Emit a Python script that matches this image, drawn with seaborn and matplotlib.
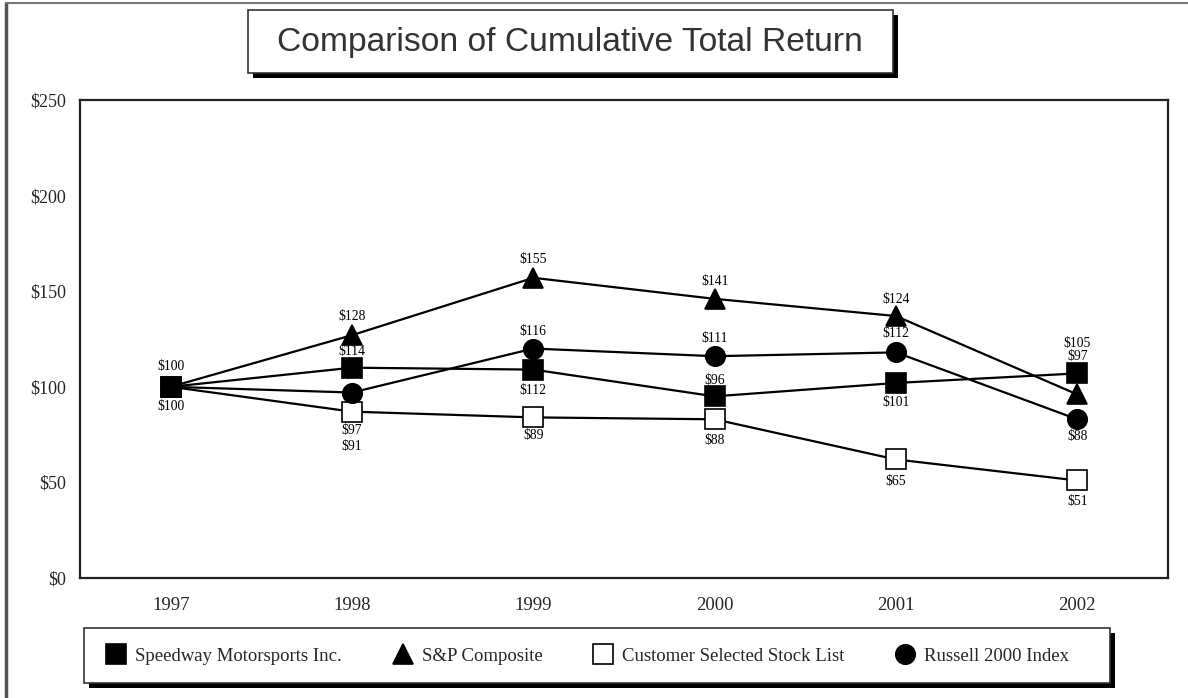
import numpy as np
import pandas as pd
import matplotlib
matplotlib.use("Agg")
import matplotlib.pyplot as plt
import seaborn as sns
from matplotlib.patches import Rectangle
from matplotlib.lines import Line2D

# Values (marker positions)
years = ["1997", "1998", "1999", "2000", "2001", "2002"]
speedway = [100, 110, 109, 95, 102, 107]
sp_composite = [100, 127, 157, 146, 137, 96]
customer_list = [100, 87, 84, 83, 62, 51]
russell = [100, 97, 120, 116, 118, 83]

series_names = ["Speedway Motorsports Inc.", "S&P Composite",
                "Customer Selected Stock List", "Russell 2000 Index"]

# Printed value labels, as they appear on the chart
label_series = [0, 0,
                1, 0, 2, 2,
                1, 3, 0, 2,
                1, 3, 0, 2,
                1, 3, 0, 2,
                0, 0, 3, 2]
label_year = [0, 0,
              1, 1, 1, 1,
              2, 2, 2, 2,
              3, 3, 3, 3,
              4, 4, 4, 4,
              5, 5, 5, 5]
label_text = ["$100", "$100",
              "$128", "$114", "$97", "$91",
              "$155", "$116", "$112", "$89",
              "$141", "$111", "$96", "$88",
              "$124", "$112", "$101", "$65",
              "$105", "$97", "$88", "$51"]
# vertical placement of each label (pixels, negative = above marker)
label_dy = [-20, 20,
            -19, -16, 19, 35,
            -18, -17, 21, 18,
            -17, -18, -16, 21,
            -17, -19, 20, 22,
            -30, -17, 17, 21]

values = [speedway, sp_composite, customer_list, russell]
df = pd.DataFrame({
    "x": np.tile(np.arange(len(years)), len(series_names)),
    "value": np.concatenate(values),
    "series": np.repeat(series_names, len(years)),
})

sns.set_style("white")
serif = ["Liberation Serif", "DejaVu Serif"]
plt.rcParams["font.family"] = serif

W, H = 1188, 698
fig = plt.figure(figsize=(W / 100, H / 100), dpi=100)
ax = fig.add_axes([80 / W, 1 - 578 / H, (1168 - 80) / W, (578 - 100) / H])

msize = 14.5
styles = [
    dict(marker="s", markerfacecolor="black", markersize=msize),
    dict(marker="^", markerfacecolor="black", markersize=msize),
    dict(marker="s", markerfacecolor="white", markersize=msize),
    dict(marker="o", markerfacecolor="black", markersize=msize - 0.5),
]
zorders = [5, 4, 2, 3]

for name, st, z in zip(series_names, styles, zorders):
    sub = df[df["series"] == name]
    sns.lineplot(data=sub, x="x", y="value", ax=ax, color="black",
                 linewidth=1.6, markeredgecolor="black", markeredgewidth=1.2,
                 sort=False, zorder=z, **st)

# value labels
for s, yi, txt, dy in zip(label_series, label_year, label_text, label_dy):
    ax.annotate(txt, (yi, values[s][yi]), xytext=(0, -dy * 0.72),
                textcoords="offset points", ha="center", va="center",
                fontsize=9.8, color="black", zorder=6)

ax.set_xlim(-0.5, len(years) - 0.5)
ax.set_ylim(0, 250)
ax.set_xticks(np.arange(len(years)))
ax.set_xticklabels(years)
ax.set_xticks(np.arange(len(years) - 1) + 0.5, minor=True)
ax.set_yticks(np.arange(0, 251, 50))
ax.set_yticklabels([f"${v}" for v in range(0, 251, 50)])
ax.tick_params(axis="x", which="major", length=0, pad=14, labelsize=13.5)
ax.tick_params(axis="x", which="minor", direction="in", length=10, width=1.5,
               color="black")
ax.tick_params(axis="y", length=0, pad=10, labelsize=13)
ax.set_xlabel("")
ax.set_ylabel("")
for sp in ax.spines.values():
    sp.set_visible(True)
    sp.set_color("#222222")
    sp.set_linewidth(1.6)
if ax.get_legend():
    ax.get_legend().remove()


def px_rect(x0, y0, x1, y1, **kw):
    return Rectangle((x0 / W, 1 - y1 / H), (x1 - x0) / W, (y1 - y0) / H,
                     transform=fig.transFigure, **kw)


# outer frame (left and top edges)
fig.add_artist(Line2D([6 / W, 6 / W], [0, 1 - 3 / H], transform=fig.transFigure,
                      color="#555555", linewidth=2.5))
fig.add_artist(Line2D([6 / W, 1], [1 - 3 / H, 1 - 3 / H], transform=fig.transFigure,
                      color="#777777", linewidth=1.5))

# title box with shadow
fig.add_artist(px_rect(253, 15, 898, 78, facecolor="black", edgecolor="none"))
fig.add_artist(px_rect(248, 10, 893, 73, facecolor="white", edgecolor="#333333",
                       linewidth=1.2))
fig.text(570 / W, 1 - 42 / H, "Comparison of Cumulative Total Return",
         ha="center", va="center", fontsize=24.2, color="#333333",
         family=["Liberation Sans", "DejaVu Sans"])

# legend box with shadow
fig.add_artist(px_rect(89, 633, 1115, 688, facecolor="black", edgecolor="none"))
fig.add_artist(px_rect(84, 628, 1110, 683, facecolor="white", edgecolor="#333333",
                       linewidth=1.2))
handles = [Line2D([], [], linestyle="none", color="black",
                  markeredgecolor="black", markeredgewidth=1.2, **st)
           for st in styles]
fig.legend(handles, series_names, loc="center",
           bbox_to_anchor=(588 / W, 1 - 656 / H),
           ncol=4, frameon=False, fontsize=13.5, handlelength=1.0,
           handletextpad=0.5, columnspacing=2.75)

fig.savefig("out.png", dpi=100)
